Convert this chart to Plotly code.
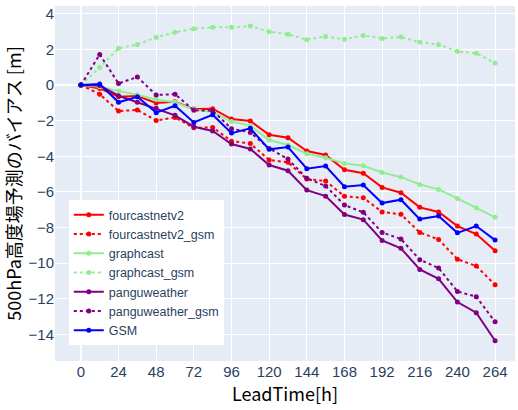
import plotly.graph_objects as go

lead_time = [0, 12, 24, 36, 48, 60, 72, 84, 96, 108, 120, 132, 144, 156, 168, 180, 192, 204, 216, 228, 240, 252, 264]

fourcastnetv2 = [0, -0.19, -0.66, -0.62, -1.01, -0.94, -1.35, -1.33, -1.91, -2.02, -2.79, -2.96, -3.71, -3.93, -4.76, -4.95, -5.75, -6.05, -6.87, -7.13, -7.92, -8.37, -9.31]
fourcastnetv2_gsm = [0, -0.51, -1.46, -1.40, -1.99, -1.82, -2.40, -2.38, -3.15, -3.28, -4.21, -4.34, -5.28, -5.39, -6.25, -6.33, -7.13, -7.26, -8.28, -8.67, -9.78, -10.17, -11.22]
graphcast = [0, -0.09, -0.34, -0.54, -0.81, -0.97, -1.37, -1.52, -2.05, -2.28, -3.09, -3.37, -3.86, -4.08, -4.40, -4.53, -4.91, -5.17, -5.58, -5.86, -6.37, -6.89, -7.43]
graphcast_gsm = [0, 0.99, 2.06, 2.28, 2.68, 2.96, 3.16, 3.24, 3.24, 3.31, 3.00, 2.85, 2.55, 2.73, 2.57, 2.79, 2.62, 2.70, 2.40, 2.28, 1.89, 1.78, 1.24]
panguweather = [0, -0.02, -0.60, -0.96, -1.31, -1.70, -2.34, -2.58, -3.31, -3.59, -4.49, -4.81, -5.90, -6.24, -7.27, -7.56, -8.73, -9.17, -10.36, -10.88, -12.19, -12.79, -14.36]
panguweather_gsm = [0, 1.72, 0.09, 0.45, -0.56, -0.51, -1.42, -1.44, -2.45, -2.66, -3.56, -4.16, -5.24, -5.67, -6.74, -7.15, -8.28, -8.65, -9.81, -10.28, -11.59, -11.89, -13.30]
gsm = [0, 0.06, -0.97, -0.66, -1.55, -1.16, -2.10, -1.67, -2.70, -2.43, -3.61, -3.48, -4.70, -4.55, -5.71, -5.62, -6.63, -6.44, -7.53, -7.36, -8.30, -7.92, -8.71]

x_ticks = list(range(0, 265, 24))
y_ticks = list(range(-14, 5, 2))

series = [
    ("fourcastnetv2", fourcastnetv2, "red", "solid"),
    ("fourcastnetv2_gsm", fourcastnetv2_gsm, "red", "dot"),
    ("graphcast", graphcast, "lightgreen", "solid"),
    ("graphcast_gsm", graphcast_gsm, "lightgreen", "dot"),
    ("panguweather", panguweather, "purple", "solid"),
    ("panguweather_gsm", panguweather_gsm, "purple", "dot"),
    ("GSM", gsm, "blue", "solid"),
]

fig = go.Figure()
for name, vals, color, dash in series:
    fig.add_trace(go.Scatter(
        x=lead_time, y=vals, name=name, mode="lines+markers",
        line=dict(color=color, dash=dash, width=2),
        marker=dict(color=color, size=5),
    ))

fig.update_layout(
    width=518, height=410,
    template="plotly",
    margin=dict(l=55, r=3, t=6, b=49),
    font=dict(family="Liberation Sans, Arial, sans-serif", color="#2a3f5f"),
    legend=dict(
        x=0.03, y=0.045, xanchor="left", yanchor="bottom",
        bgcolor="white", font=dict(size=12.5, color="#2a3f5f"),
    ),
    xaxis=dict(
        title=dict(text="LeadTime[h]", font=dict(family="Noto Sans CJK JP", size=18, color="black"), standoff=8),
        tickvals=x_ticks, range=[-16.5, 276.7], tickfont=dict(size=15),
    ),
    yaxis=dict(
        title=dict(text="500hPa高度場予測のバイアス [m]", font=dict(family="Noto Sans CJK JP", size=18, color="black"), standoff=4),
        tickvals=y_ticks, range=[-15.5, 4.44], tickfont=dict(size=15),
    ),
)

fig.write_html("out.html")
